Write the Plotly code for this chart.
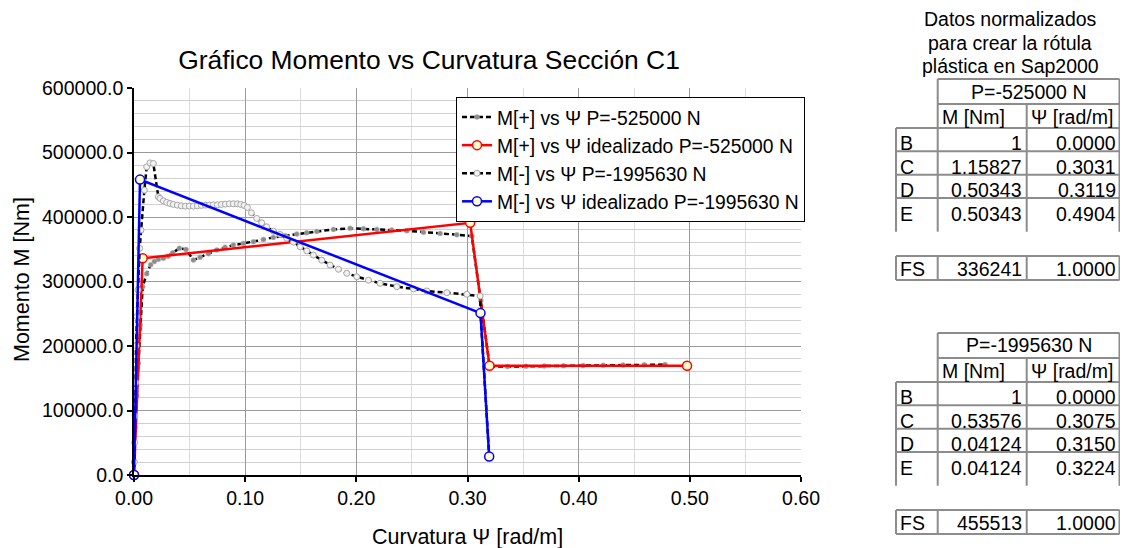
import plotly.graph_objects as go

# ---------------- data ----------------
mpos_name = "M[+] vs Ψ P=-525000 N"
mpos_x = [0, 0.0009, 0.0024, 0.0039, 0.0057, 0.0078, 0.0114, 0.0150, 0.0183, 0.0219,
          0.0264, 0.0306, 0.0348, 0.0408, 0.0468, 0.0534, 0.0594, 0.0669, 0.0744, 0.0819,
          0.0894, 0.0984, 0.1074, 0.1164, 0.1254, 0.1359, 0.1464, 0.1554, 0.1644, 0.1794,
          0.1944, 0.2064, 0.2184, 0.2319, 0.2454, 0.2604, 0.2754, 0.2904, 0.3039, 0.3120,
          0.3200, 0.3360, 0.3526, 0.3690, 0.3864, 0.4040, 0.4220, 0.4400, 0.4590, 0.4777]
mpos_y = [0, 73700, 122800, 173400, 232700, 292000, 312000, 326000, 331000, 334400,
          335900, 339000, 344600, 351400, 349800, 333300, 337500, 343000, 348800, 353000,
          356500, 359000, 361600, 365000, 368400, 371000, 373500, 375500, 377700, 380800,
          382400, 381800, 380800, 379700, 378600, 376200, 374600, 372500, 370400, 271000,
          168100, 168100, 168500, 168800, 169200, 169600, 170000, 170400, 170800, 171200]

ipos_name = "M[+] vs Ψ idealizado P=-525000 N"
ipos_x = [0, 0.0078, 0.3024, 0.3198, 0.4975]
ipos_y = [0, 336000, 391000, 169500, 169500]

mneg_name = "M[-] vs Ψ P=-1995630 N"
mneg_x = [0, 0.0003, 0.0006, 0.0009, 0.0015, 0.0018, 0.0024, 0.0036, 0.0051, 0.0063,
          0.0093, 0.0114, 0.0144, 0.0174, 0.0219, 0.0234, 0.0264, 0.0294, 0.0324, 0.0354,
          0.0390, 0.0426, 0.0462, 0.0498, 0.0534, 0.0570, 0.0606, 0.0642, 0.0678, 0.0714,
          0.0750, 0.0786, 0.0822, 0.0858, 0.0894, 0.0930, 0.0960, 0.0990, 0.1020, 0.1056,
          0.1104, 0.1149, 0.1194, 0.1254, 0.1314, 0.1374, 0.1434, 0.1494, 0.1554, 0.1614,
          0.1689, 0.1764, 0.1839, 0.1914, 0.2004, 0.2109, 0.2214, 0.2364, 0.2514, 0.2634,
          0.2814, 0.2994, 0.3114, 0.3117, 0.3195]
mneg_y = [0, 20100, 50500, 91800, 143300, 200600, 245500, 287000, 351400, 379700,
          441600, 477700, 483900, 483000, 431300, 428800, 425100, 422600, 421000, 419500,
          418400, 417300, 416900, 416900, 416900, 417300, 417900, 418400, 418400, 418900,
          418900, 419500, 420000, 420500, 420500, 420500, 419500, 417900, 414900, 406500,
          397800, 391000, 384800, 378000, 373000, 367000, 361000, 354000, 347500, 341000,
          333000, 325500, 319000, 312700, 307400, 302000, 297200, 292000, 288400, 285300,
          282700, 280200, 277500, 251000, 28800]

ineg_name = "M[-] vs Ψ idealizado P=-1995630 N"
ineg_x = [0, 0.0054, 0.3117, 0.3195]
ineg_y = [0, 458000, 251000, 28800]

# tables
table_title = ["Datos normalizados", "para crear la rótula", "plástica en Sap2000"]
col_heads = ["M [Nm]", "Ψ [rad/m]"]
row_labels = ["B", "C", "D", "E"]
t1_head = "P=-525000 N"
t1_m = [1, 1.15827, 0.50343, 0.50343]
t1_psi = [0.0000, 0.3031, 0.3119, 0.4904]
t1_fs = [336241, 1.0000]
t2_head = "P=-1995630 N"
t2_m = [1, 0.53576, 0.04124, 0.04124]
t2_psi = [0.0000, 0.3075, 0.3150, 0.3224]
t2_fs = [455513, 1.0000]

x_ticks = [0.0, 0.1, 0.2, 0.3, 0.4, 0.5, 0.6]
y_ticks = [0, 100000, 200000, 300000, 400000, 500000, 600000]

# ---------------- layout helpers ----------------
# The page body has an 8px margin, so the figure is drawn at (8, 8) in the window.
OFF = 8
W, H = 1120, 540
PX0, PX1 = 134, 801      # plot area in window pixels
PY0, PY1 = 88, 475
L = PX0 - OFF
T = PY0 - OFF
PW = PX1 - PX0
PH = PY1 - PY0
R = W - L - PW
B = H - T - PH
FONT = "Liberation Sans, Arial, sans-serif"


def px(x):
    return (x - PX0) / PW


def py(y):
    return (PY1 - y) / PH


fig = go.Figure()

fig.add_trace(go.Scatter(
    x=mpos_x, y=mpos_y, name=mpos_name, mode="lines+markers", cliponaxis=False,
    line=dict(color="black", width=2.5, dash="5px,3px"),
    marker=dict(symbol="circle", size=5, color="#8c8c8c", line=dict(color="#bdbdbd", width=0.5)),
    legendgroup="a"))
fig.add_trace(go.Scatter(
    x=ipos_x, y=ipos_y, name=ipos_name, mode="lines+markers", cliponaxis=False,
    line=dict(color="#ff0000", width=2.5),
    marker=dict(symbol="circle", size=9, color="#ffffcc", line=dict(color="#ff0000", width=1.5)),
    legendgroup="b"))
fig.add_trace(go.Scatter(
    x=mneg_x, y=mneg_y, name=mneg_name, mode="lines+markers", cliponaxis=False,
    line=dict(color="black", width=2.5, dash="5px,3px"),
    marker=dict(symbol="circle", size=6, color="#f2f2f2", line=dict(color="#a6a6a6", width=1)),
    legendgroup="c"))
fig.add_trace(go.Scatter(
    x=ineg_x, y=ineg_y, name=ineg_name, mode="lines+markers", cliponaxis=False,
    line=dict(color="#0000ff", width=2.5),
    marker=dict(symbol="circle", size=9, color="#ffffcc", line=dict(color="#0000ff", width=1.5)),
    legendgroup="d"))

shapes = []
annots = []
BC = "#8c8c8c"


def hline(x0, x1, y):
    shapes.append(dict(type="line", xref="paper", yref="paper", x0=px(x0), x1=px(x1),
                       y0=py(y), y1=py(y), line=dict(color=BC, width=2)))


def vline(x, y0, y1):
    shapes.append(dict(type="line", xref="paper", yref="paper", x0=px(x), x1=px(x),
                       y0=py(y0), y1=py(y1), line=dict(color=BC, width=2)))


def text(s, x, y, anchor="left", size=19.5, angle=0):
    annots.append(dict(text=s, x=px(x), y=py(y), xref="paper", yref="paper",
                       xanchor=anchor, yanchor="middle", showarrow=False, textangle=angle,
                       font=dict(family=FONT, size=size, color="black")))


def fmt_m(v):
    return "1" if v == 1 else f"{v:.5f}"


# table title
for i, s in enumerate(table_title):
    text(s, 1010, 19 + i * 23.5, anchor="center")

xa, xb, xc, xd = 896, 937.7, 1026.7, 1119.5
for off, head, mv, pv, fs in [(0, t1_head, t1_m, t1_psi, t1_fs),
                              (254, t2_head, t2_m, t2_psi, t2_fs)]:
    y0 = 79 + off
    hline(xb, xd, y0)
    hline(xb, xd, y0 + 25)
    vline(xb, y0, y0 + 152.7)
    vline(xd, y0, y0 + 152.7)
    vline(xc, y0 + 25, y0 + 152.7)
    vline(xa, y0 + 49, y0 + 152.7)
    for yy in [49, 72.3, 95.7, 119]:
        hline(xa, xd, y0 + yy)
    text(head, (xb + xd) / 2, y0 + 12.5, anchor="center")
    text(col_heads[0], xb + 2.5, y0 + 37.5)
    text(col_heads[1], xc + 2.5, y0 + 37.5)
    row_c = [64, 87.5, 111, 135]
    for k in range(4):
        yc = y0 + row_c[k]
        text(row_labels[k], xa + 2, yc)
        text(fmt_m(mv[k]), xc - 3, yc, anchor="right")
        text(f"{pv[k]:.4f}", xd - 2, yc, anchor="right")
    fy = 256 + off
    hline(xa, xd, fy)
    hline(xa, xd, fy + 24)
    for xx in (xa, xb, xc, xd):
        vline(xx, fy, fy + 24)
    text("FS", xa + 2, fy + 13)
    text(str(fs[0]), xc - 3, fy + 13, anchor="right")
    text(f"{fs[1]:.4f}", xd - 2, fy + 13, anchor="right")

# axis titles
text("Curvatura Ψ [rad/m]", 467.5, 537, anchor="center", size=21.5)
text("Momento M [Nm]", 22, 280, anchor="center", size=21.5, angle=-90)

fig.update_layout(
    width=W, height=H,
    margin=dict(l=L, r=R, t=T, b=B, pad=0),
    paper_bgcolor="white", plot_bgcolor="white",
    font=dict(family=FONT, size=19.5, color="black"),
    title=dict(text="Gráfico Momento vs Curvatura Sección C1", x=(429 - OFF) / W, xanchor="center",
               y=1 - (60 - OFF) / H, yanchor="middle", yref="container",
               font=dict(family=FONT, size=26.4, color="black")),
    showlegend=True,
    legend=dict(x=px(456), y=py(97), xanchor="left", yanchor="top",
                bgcolor="white", bordercolor="black", borderwidth=1,
                font=dict(family=FONT, size=19.3, color="black"),
                traceorder="grouped", tracegroupgap=0, itemwidth=30),
    shapes=shapes, annotations=annots,
)
fig.update_xaxes(range=[0, 0.6], tickvals=x_ticks, tickformat=".2f",
                 showline=True, linecolor="black", linewidth=1.5,
                 ticks="outside", ticklen=5, tickcolor="black", tickwidth=1.5,
                 showgrid=True, gridcolor="#9a9a9a", gridwidth=1, zeroline=False,
                 minor=dict(dtick=0.05, showgrid=True, gridcolor="#dcdcdc", gridwidth=1),
                 tickfont=dict(family=FONT, size=19.5, color="black"))
fig.update_yaxes(range=[0, 600000], tickvals=y_ticks, tickformat=".1f",
                 showline=True, linecolor="black", linewidth=1.5,
                 ticks="outside", ticklen=5, tickcolor="black", tickwidth=1.5,
                 showgrid=True, gridcolor="#9a9a9a", gridwidth=1, zeroline=False,
                 minor=dict(dtick=20000, showgrid=True, gridcolor="#d0d0d0", gridwidth=1),
                 tickfont=dict(family=FONT, size=19.5, color="black"))

fig.write_html("out.html")
